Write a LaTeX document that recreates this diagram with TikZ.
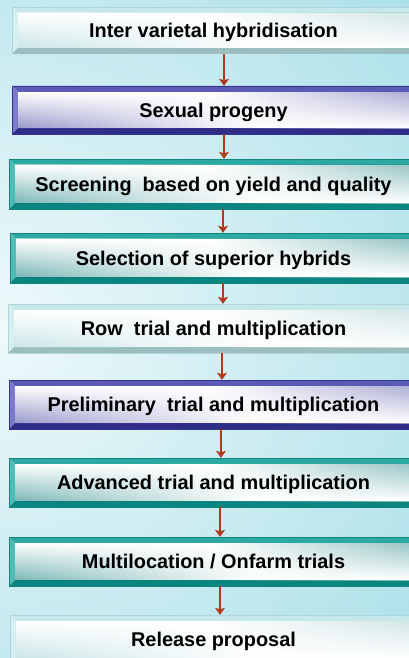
\documentclass[tikz,border=0pt]{standalone}
\usepackage{fontspec}
\setmainfont{Liberation Sans}
\usetikzlibrary{arrows.meta,fadings}
\definecolor{bgc}{HTML}{A3DDE6}
\definecolor{glow}{HTML}{EEF9FB}
\definecolor{arrc}{HTML}{B03A1E}
% purple
\definecolor{pT}{HTML}{5B5BB5}\definecolor{pL}{HTML}{7A7AC8}\definecolor{pB}{HTML}{2E2E88}
\definecolor{pR}{HTML}{4848A0}\definecolor{pC}{HTML}{4444A0}\definecolor{pD}{HTML}{5C5CAC}\definecolor{pE}{HTML}{34348C}
% teal
\definecolor{tT}{HTML}{2DA9A3}\definecolor{tL}{HTML}{4FBDB6}\definecolor{tB}{HTML}{0A857F}
\definecolor{tR}{HTML}{1E9892}\definecolor{tC}{HTML}{0E7A7A}\definecolor{tD}{HTML}{338C8C}\definecolor{tE}{HTML}{13847E}
% light
\definecolor{lT}{HTML}{C6E8EB}\definecolor{lL}{HTML}{D6EFF1}\definecolor{lB}{HTML}{9CBEBE}
\definecolor{lR}{HTML}{B8DCDE}\definecolor{lC}{HTML}{A0D2D6}\definecolor{lD}{HTML}{A8CED0}\definecolor{lE}{HTML}{B0D6DA}
\begin{tikzfadingfrompicture}[name=fadeL]
  \shade[left color=transparent!0, right color=transparent!100] (-50bp,-50bp) rectangle (5bp,50bp);
  \fill[transparent!100] (5bp,-50bp) rectangle (50bp,50bp);
\end{tikzfadingfrompicture}
\begin{tikzfadingfrompicture}[name=fadeR]
  \fill[transparent!100] (-50bp,-50bp) rectangle (0bp,50bp);
  \shade[left color=transparent!100, right color=transparent!0] (0bp,-50bp) rectangle (50bp,50bp);
\end{tikzfadingfrompicture}
\tikzset{
  box/.style={rectangle, inner sep=0pt, fill=white, text=black,
    font=\fontsize{19.9}{22}\selectfont\bfseries, text height=14.2pt, text depth=0pt},
  bevel/.style n args={7}{path picture={
    \path (path picture bounding box.north west) coordinate (pNW)
          (path picture bounding box.north east) coordinate (pNE)
          (path picture bounding box.south west) coordinate (pSW)
          (path picture bounding box.south east) coordinate (pSE);
    \path ([xshift=6pt,yshift=-6pt]pNW) coordinate (qNW)
          ([xshift=-6pt,yshift=-6pt]pNE) coordinate (qNE)
          ([xshift=6pt,yshift=6pt]pSW) coordinate (qSW)
          ([xshift=-6pt,yshift=6pt]pSE) coordinate (qSE);
    \fill[#1] (pNW)--(pNE)--(qNE)--(qNW)--cycle;
    \fill[#2] (pNW)--(qNW)--(qSW)--(pSW)--cycle;
    \fill[#3] (pSW)--(qSW)--(qSE)--(pSE)--cycle;
    \fill[#4] (pNE)--(pSE)--(qSE)--(qNE)--cycle;
    \fill[white] (qNW) rectangle (qSE);
    \shade[top color=white, bottom color=#5, path fading=fadeL] (qNW) rectangle (qSE);
    \shade[top color=#6, bottom color=white, path fading=fadeR] (qNW) rectangle (qSE);
    \draw[#7, line width=0.7pt] (pNW) rectangle (pSE);
  }},
  purplebox/.style={box, bevel={pT}{pL}{pB}{pR}{pC}{pD}{pE}},
  tealbox/.style={box, bevel={tT}{tL}{tB}{tR}{tC}{tD}{tE}},
  lightbox/.style={box, bevel={lT}{lL}{lB}{lR}{lC}{lD}{lE}},
  arr/.style={draw=arrc, line width=1.3pt, -{Stealth[length=7pt, width=10pt, inset=1.5pt]}}
}
\begin{document}
\begin{tikzpicture}[x=1pt, y=-1pt]
\useasboundingbox (0,0) rectangle (409,658);
\clip (0,0) rectangle (409,658);
\fill[bgc] (0,0) rectangle (409,658);
\shade[inner color=glow, outer color=bgc] (0,330) ellipse [x radius=620, y radius=580];

\node[lightbox,  minimum width=403pt, minimum height=47pt] (b1) at (213.5,30.5) {Inter varietal hybridisation};
\node[purplebox, minimum width=403pt, minimum height=48pt] (b2) at (213.5,110) {Sexual progeny};
\node[tealbox,   minimum width=409pt, minimum height=50pt] (b3) at (213.5,184) {Screening~~based on yield and quality};
\node[tealbox,   minimum width=407pt, minimum height=50pt] (b4) at (213.5,258) {Selection of superior hybrids};
\node[lightbox,  minimum width=411pt, minimum height=49pt] (b5) at (213.5,328.5) {Row~~trial and multiplication};
\node[purplebox, minimum width=409pt, minimum height=49pt] (b6) at (213.5,404.5) {Preliminary~~trial and multiplication};
\node[tealbox,   minimum width=409pt, minimum height=49pt] (b7) at (213.5,482.5) {Advanced trial and multiplication};
\node[tealbox,   minimum width=409pt, minimum height=49pt] (b8) at (213.5,561.5) {Multilocation / Onfarm trials};
\node[lightbox,  minimum width=407pt, minimum height=49pt] (b9) at (213.5,639.5) {Release proposal};

\draw[arr] ([xshift=10.5pt]b1.south) -- ([xshift=10.5pt]b2.north);
\draw[arr] ([xshift=10.5pt]b2.south) -- ([xshift=10.5pt]b3.north);
\draw[arr] ([xshift=9.5pt]b3.south) -- ([xshift=9.5pt]b4.north);
\draw[arr] ([xshift=9.5pt]b4.south) -- ([xshift=9.5pt]b5.north);
\draw[arr] ([xshift=8.5pt]b5.south) -- ([xshift=8.5pt]b6.north);
\draw[arr] ([xshift=7.5pt]b6.south) -- ([xshift=7.5pt]b7.north);
\draw[arr] ([xshift=6.5pt]b7.south) -- ([xshift=6.5pt]b8.north);
\draw[arr] ([xshift=6.5pt]b8.south) -- ([xshift=6.5pt]b9.north);
\end{tikzpicture}
\end{document}
